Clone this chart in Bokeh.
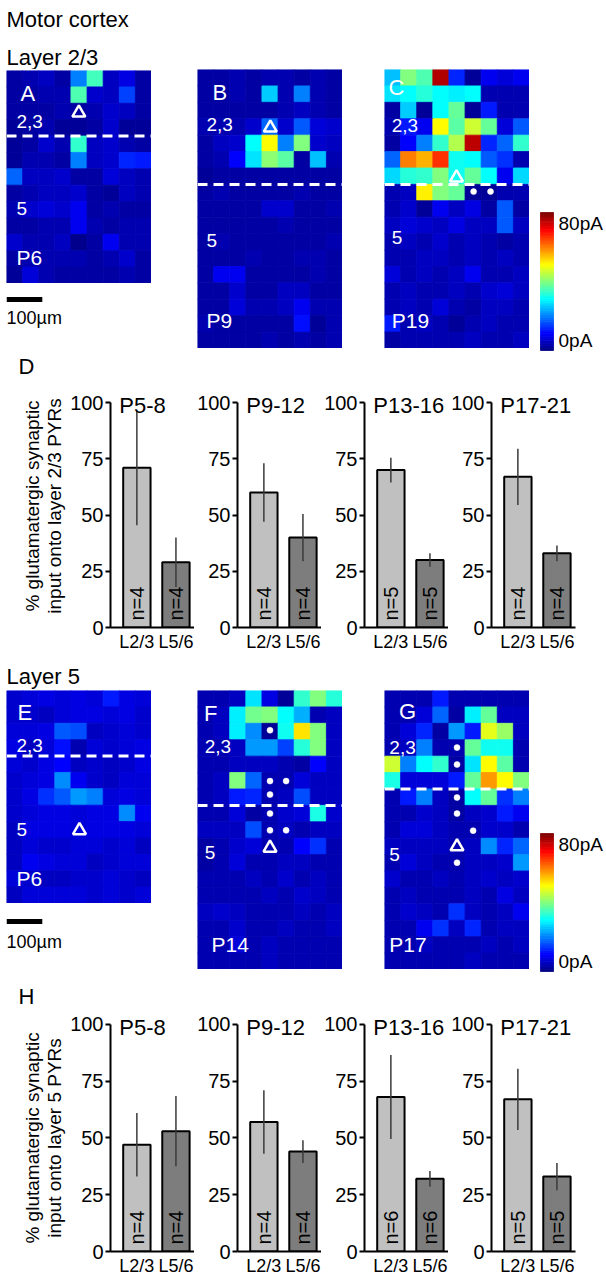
import numpy as np
from bokeh.plotting import figure
from bokeh.layouts import row, column
from bokeh.models import Range1d, ColumnDataSource, LinearColorMapper, FixedTicker, Span, Spacer
from bokeh.core.properties import value
from bokeh.transform import transform
from bokeh.embed import file_html
from bokeh.resources import INLINE

FONT = "Liberation Sans"

# ---------------- data: input maps (pA), rows top -> bottom ----------------
map_A = [
    [3, 4, 5, 3, 20, 35, 5, 8, 3],
    [3, 3, 4, 4, 36, 6, 5, 15, 3],
    [3, 3, 3, 4, 3, 4, 6, 5, 3],
    [2, 3, 4, 2, 2, 3, 6, 2, 2],
    [2, 3, 6, 4, 34, 5, 6, 4, 3],
    [2, 4, 4, 3, 20, 5, 6, 13, 12],
    [18, 5, 5, 6, 3, 3, 7, 5, 4],
    [3, 4, 5, 5, 6, 3, 2, 5, 4],
    [4, 6, 7, 6, 9, 3, 4, 3, 3],
    [3, 3, 4, 4, 9, 4, 3, 4, 4],
    [6, 4, 4, 5, 1, 3, 9, 4, 4],
    [3, 4, 4, 4, 4, 3, 4, 6, 3],
    [2, 7, 4, 3, 3, 3, 3, 4, 3],
]
map_B = [
    [3, 3, 4, 3, 4, 4, 3, 4, 3],
    [3, 3, 4, 3, 26, 4, 20, 4, 3],
    [3, 3, 3, 3, 3, 4, 5, 4, 3],
    [4, 4, 4, 6, 18, 6, 17, 7, 6],
    [3, 5, 6, 30, 50, 20, 40, 6, 5],
    [3, 4, 10, 28, 41, 37, 3, 25, 4],
    [2, 3, 3, 3, 3, 3, 3, 3, 3],
    [3, 4, 3, 3, 3, 3, 4, 3, 3],
    [3, 3, 3, 3, 6, 6, 3, 3, 4],
    [3, 3, 3, 3, 3, 4, 3, 3, 3],
    [3, 4, 3, 3, 3, 3, 3, 3, 4],
    [3, 3, 3, 4, 3, 3, 4, 4, 3],
    [3, 9, 9, 3, 3, 3, 3, 4, 3],
    [3, 3, 6, 3, 3, 5, 5, 3, 3],
    [3, 3, 7, 4, 4, 5, 9, 4, 4],
    [4, 3, 3, 3, 3, 3, 11, 2, 4],
    [3, 3, 3, 3, 4, 3, 4, 3, 4],
]
map_C = [
    [25, 40, 36, 76, 13, 2, 9, 7, 9],
    [28, 30, 33, 30, 29, 30, 4, 4, 4],
    [3, 26, 2, 30, 38, 2, 12, 4, 4],
    [4, 12, 9, 50, 37, 46, 38, 7, 17],
    [3, 10, 20, 34, 44, 75, 13, 18, 34],
    [18, 60, 56, 66, 31, 30, 17, 14, 4],
    [27, 33, 34, 40, 31, 38, 30, 9, 27],
    [4, 5, 51, 40, 38, 2, 2, 4, 4],
    [4, 6, 2, 9, 5, 8, 3, 17, 3],
    [5, 7, 6, 5, 8, 5, 5, 17, 5],
    [4, 5, 4, 6, 4, 5, 4, 3, 4],
    [4, 4, 5, 5, 4, 5, 4, 5, 4],
    [7, 4, 5, 4, 5, 9, 4, 4, 5],
    [4, 5, 4, 4, 5, 4, 6, 7, 5],
    [4, 5, 4, 7, 4, 3, 5, 5, 4],
    [12, 4, 5, 4, 2, 4, 5, 4, 4],
    [3, 4, 4, 4, 4, 5, 4, 4, 5],
]
map_E = [
    [6, 7, 8, 7, 8, 7, 12, 8, 7],
    [6, 6, 5, 7, 8, 8, 7, 8, 6],
    [7, 7, 8, 17, 16, 5, 6, 7, 6],
    [8, 5, 7, 11, 4, 7, 6, 7, 8],
    [7, 6, 8, 10, 5, 6, 5, 6, 8],
    [6, 7, 8, 21, 9, 6, 5, 7, 7],
    [6, 8, 14, 17, 22, 20, 7, 8, 7],
    [6, 7, 8, 8, 7, 8, 8, 21, 9],
    [5, 8, 8, 8, 7, 8, 8, 8, 7],
    [5, 7, 6, 6, 7, 7, 6, 7, 5],
    [5, 9, 8, 7, 7, 5, 6, 7, 7],
    [7, 6, 5, 5, 6, 6, 7, 6, 5],
    [5, 7, 7, 7, 7, 6, 7, 6, 7],
]
map_F = [
    [4, 4, 5, 28, 8, 2, 34, 40, 33],
    [4, 5, 29, 39, 40, 30, 24, 4, 5],
    [4, 5, 29, 21, 2, 31, 52, 40, 5],
    [4, 4, 5, 22, 22, 15, 33, 40, 5],
    [4, 4, 5, 5, 5, 4, 3, 10, 5],
    [4, 5, 40, 18, 4, 4, 7, 5, 5],
    [4, 5, 12, 13, 4, 5, 16, 5, 5],
    [4, 4, 7, 3, 4, 6, 7, 32, 6],
    [5, 5, 5, 16, 4, 5, 4, 5, 5],
    [3, 4, 6, 7, 4, 4, 10, 14, 4],
    [3, 4, 7, 4, 4, 5, 5, 4, 4],
    [4, 4, 4, 5, 4, 6, 4, 5, 4],
    [4, 4, 4, 4, 5, 4, 6, 5, 4],
    [5, 6, 5, 4, 4, 4, 5, 4, 5],
    [4, 4, 6, 4, 4, 5, 4, 4, 5],
    [4, 4, 7, 4, 5, 4, 4, 4, 4],
    [4, 4, 4, 4, 5, 4, 4, 4, 4],
]
map_G = [
    [4, 4, 4, 12, 4, 4, 4, 4, 4],
    [4, 4, 7, 18, 3, 29, 38, 5, 5],
    [4, 7, 13, 3, 22, 12, 48, 42, 5],
    [4, 5, 20, 4, 4, 38, 31, 31, 4],
    [46, 20, 30, 34, 3, 28, 50, 37, 4],
    [32, 7, 7, 7, 12, 38, 58, 50, 40],
    [4, 12, 20, 5, 3, 30, 38, 14, 20],
    [4, 4, 6, 5, 3, 5, 6, 12, 9],
    [4, 7, 7, 5, 4, 4, 6, 6, 4],
    [5, 5, 5, 5, 4, 5, 21, 13, 18],
    [4, 7, 5, 4, 4, 5, 5, 6, 22],
    [6, 4, 4, 5, 4, 5, 6, 5, 6],
    [4, 5, 4, 4, 4, 5, 4, 8, 5],
    [4, 6, 5, 4, 14, 5, 4, 5, 9],
    [4, 4, 9, 14, 5, 13, 4, 5, 5],
    [4, 4, 5, 4, 4, 4, 5, 4, 5],
    [4, 4, 4, 4, 4, 5, 4, 4, 4],
]

# layer 2/3 | 5 boundary (row index) for each map
boundary = {"A": 4, "B": 7, "C": 7, "E": 4, "F": 7, "G": 6}
# recorded cell (triangle) in grid units (column, row)
soma = {"A": (4.49, 2.58), "B": (4.52, 3.55), "C": (4.47, 6.59),
        "E": (4.53, 8.54), "F": (4.5, 9.59), "G": (4.5, 9.51)}
# other recorded cells (dots) in grid units
dots_x = {"C": [5.53, 6.58], "F": [4.5, 4.5, 5.5, 4.5, 4.5, 4.5, 5.5],
          "G": [4.5, 4.5, 4.5, 4.5, 5.5, 4.5]}
dots_y = {"C": [7.44, 7.44], "F": [2.42, 5.52, 5.52, 6.34, 7.5, 8.52, 8.52],
          "G": [3.48, 4.51, 6.52, 7.5, 8.54, 10.49]}
# in-map labels
map_text = {
    "A": ["A", "2,3", "5", "P6"], "B": ["B", "2,3", "5", "P9"], "C": ["C", "2,3", "5", "P19"],
    "E": ["E", "2,3", "5", "P6"], "F": ["F", "2,3", "5", "P14"], "G": ["G", "2,3", "5", "P17"],
}
map_text_x = {"A": [0.87, 0.62, 0.62, 0.62], "B": [0.93, 0.56, 0.56, 0.56], "C": [0.25, 0.45, 0.45, 0.45],
              "E": [0.68, 0.62, 0.62, 0.62], "F": [0.4, 0.45, 0.45, 0.87], "G": [0.9, 0.3, 0.3, 0.3]}
map_text_y = {"A": [1.43, 3.1, 8.4, 11.4], "B": [1.39, 3.37, 10.4, 15.27], "C": [1.1, 3.4, 10.25, 15.3],
              "E": [1.34, 3.35, 8.5, 11.5], "F": [1.4, 3.4, 9.9, 15.5], "G": [1.3, 3.45, 10.0, 15.45]}

CBAR_LOW, CBAR_HIGH = 0, 80
cbar_labels = ["80pA", "0pA"]

# ---------------- data: bar charts ----------------
ages = ["P5-8", "P9-12", "P13-16", "P17-21"]
cats = ["L2/3", "L5/6"]
y_ticks = [0, 25, 50, 75, 100]

d_l23 = [71, 60, 70, 67]
d_l23_err = [25.5, 13, 5.5, 12.5]
d_l56 = [29, 40, 30, 33]
d_l56_err = [11, 10.5, 3, 3.5]
d_n = [4, 4, 5, 4]

h_l23 = [47, 57, 68, 67]
h_l23_err = [14, 14, 18.5, 13.5]
h_l56 = [53, 44, 32, 33]
h_l56_err = [15.5, 5, 3.5, 6]
h_n = [4, 4, 6, 5]

scale_um = 100
cell_um = 45

# ---------------- helpers ----------------
def jet_palette(n=256):
    out = []
    for i in range(n):
        t = i / (n - 1)
        r = min(max(1.5 - abs(4 * t - 3), 0), 1)
        g = min(max(1.5 - abs(4 * t - 2), 0), 1)
        b = min(max(1.5 - abs(4 * t - 1), 0), 1)
        out.append("#%02x%02x%02x" % (round(r * 255), round(g * 255), round(b * 255)))
    return out


JET = jet_palette()
MAPPER = LinearColorMapper(palette=JET, low=CBAR_LOW, high=CBAR_HIGH)


def blank(w, h, xr, yr, **kw):
    opts = dict(min_border=0)
    opts.update(kw)
    p = figure(width=w, height=h, x_range=xr, y_range=yr, output_backend="svg",
               toolbar_location=None, x_axis_location=None,
               y_axis_location=None, title=None, **opts)
    p.xgrid.visible = False
    p.ygrid.visible = False
    p.outline_line_color = None
    p.background_fill_color = "white"
    p.border_fill_color = "white"
    return p


CELL_H = 16.4
MAP_W = 145


def heat_fig(key, mat):
    nr, nc = len(mat), len(mat[0])
    p = blank(MAP_W, int(round(nr * CELL_H)), Range1d(0, nc), Range1d(nr, 0))
    xs, ys, vs = [], [], []
    for r, rv in enumerate(mat):
        for c, v in enumerate(rv):
            xs.append(c + 0.5)
            ys.append(r + 0.5)
            vs.append(v)
    src = ColumnDataSource(dict(x=xs, y=ys, v=vs))
    p.rect("x", "y", width=1, height=1, source=src, fill_color=transform("v", MAPPER),
           line_color=transform("v", MAPPER), line_width=0.8)
    p.add_layout(Span(location=boundary[key], dimension="width", line_color="white",
                      line_width=3, line_dash="10 6"))
    lsrc = ColumnDataSource(dict(x=map_text_x[key], y=map_text_y[key], t=map_text[key],
                                 fs=["22px", "19px", "19px", "21px"]))
    p.text("x", "y", text="t", source=lsrc, text_font_size="fs", text_color="white",
           text_font=value(FONT), text_baseline="middle", text_align="left")
    if key in dots_x:
        p.scatter(dots_x[key], dots_y[key], marker="circle", size=6, fill_color="white",
                  line_color="white", line_width=0.5)
    sx, sy = soma[key]
    p.scatter([sx], [sy], marker="triangle", size=13, fill_alpha=0, line_color="white",
              line_width=2.5)
    return p


def scale_fig(h, bar_y, text_y):
    p = blank(MAP_W, h, Range1d(0, 9 * cell_um), Range1d(h, 0))
    p.segment(x0=[0], y0=[bar_y], x1=[scale_um], y1=[bar_y], line_color="black",
              line_width=5, line_cap="butt")
    p.text(x=[0], y=[text_y], text=["%d\u00b5m" % scale_um], text_font=value(FONT),
           text_font_size="18px", text_baseline="middle", text_align="left",
           text_color="black")
    return p


CB_PX = 138 / (CBAR_HIGH - CBAR_LOW)


def cbar_fig():
    w, h, top_pad, bot_pad = 75, 150, 10, 2
    p = blank(w, h, Range1d(0, w), Range1d(CBAR_LOW - bot_pad / CB_PX, CBAR_HIGH + top_pad / CB_PX))
    levels = np.arange(CBAR_LOW, CBAR_HIGH) + 0.5
    src = ColumnDataSource(dict(y=levels, v=levels))
    p.rect(x=17.5, y="y", width=13, height=1, source=src, fill_color=transform("v", MAPPER),
           line_color=transform("v", MAPPER), line_width=0.8)
    p.text(x=[29, 29], y=[CBAR_HIGH, CBAR_LOW], text=cbar_labels, text_font=value(FONT),
           text_font_size="19px", text_baseline=["top", "bottom"], text_align="left",
           text_color="black")
    return p


TOP_PAD = 14
LEFT_B = 41
FRAME_W = 86
UNIT_PX = 40.0
X0 = 1 - 27 / UNIT_PX
LIGHT, DARK = "#c0c0c0", "#7d7d7d"
LABEL_W = 67


def bar_fig(title, m23, e23, m56, e56, n, pxu, bt, bb, last):
    rb = 8 if last else 0
    fh = int(round(100 * pxu + TOP_PAD))
    ymax = 100 + TOP_PAD / pxu
    p = figure(width=LEFT_B + FRAME_W + rb, height=bt + fh + bb,
               x_range=Range1d(X0, X0 + FRAME_W / UNIT_PX), y_range=Range1d(0, ymax),
               output_backend="svg", toolbar_location=None, title=None,
               min_border_left=LEFT_B, min_border_right=rb, min_border_top=bt,
               min_border_bottom=bb)
    p.xgrid.visible = False
    p.ygrid.visible = False
    p.outline_line_color = None
    for ax in (p.xaxis[0], p.yaxis[0]):
        ax.axis_line_width = 2
        ax.axis_line_color = "black"
        ax.major_tick_line_width = 2
        ax.major_tick_line_color = "black"
        ax.minor_tick_line_color = None
        ax.major_tick_in = 0
        ax.major_label_text_font = FONT
        ax.major_label_text_color = "black"
    ya = p.yaxis[0]
    ya.ticker = FixedTicker(ticks=y_ticks)
    ya.bounds = (0, 100)
    ya.major_tick_out = 5
    ya.major_label_standoff = 2
    ya.major_label_text_font_size = "20px"
    xa = p.xaxis[0]
    xa.ticker = FixedTicker(ticks=[1, 2])
    xa.major_label_overrides = {1: cats[0], 2: cats[1]}
    xa.major_tick_out = 0
    xa.major_tick_line_color = None
    xa.major_label_standoff = 4
    xa.major_label_text_font_size = "18px"
    src = ColumnDataSource(dict(x=[1, 2], top=[m23, m56], lo=[m23 - e23, m56 - e56],
                                hi=[m23 + e23, m56 + e56], color=[LIGHT, DARK],
                                n=["n=%d" % n] * 2, ny=[7 / pxu] * 2))
    p.vbar(x="x", top="top", bottom=0, width=0.7, fill_color="color", line_color="black",
           line_width=2, source=src)
    p.segment(x0="x", y0="lo", x1="x", y1="hi", line_color="#3a3a3a", line_width=1.5,
              source=src)
    p.text(x="x", y="ny", text="n", source=src, angle=np.pi / 2, text_align="left",
           text_baseline="middle", text_font=value(FONT), text_font_size="20px",
           text_color="black")
    p.text(x=[X0 + 9 / UNIT_PX], y=[100 - 3 / pxu], text=[title], text_font=value(FONT),
           text_font_size="22px", text_baseline="alphabetic", text_align="left",
           text_color="black")
    return p


def ylabel_fig(pxu, bt, bb, line2, center_val):
    fh = int(round(100 * pxu + TOP_PAD))
    ymax = 100 + TOP_PAD / pxu
    p = blank(LABEL_W, bt + fh + bb, Range1d(0, LABEL_W), Range1d(0, ymax),
              min_border_top=bt, min_border_bottom=bb)
    p.text(x=[31.5, 54], y=[center_val, center_val], text=["% glutamatergic synaptic", line2],
           angle=np.pi / 2, text_align="center", text_baseline="middle",
           text_font=value(FONT), text_font_size="19px", text_color="black")
    return p


def bar_band(line2, center_val, pxu, bt, bb, l23, l23e, l56, l56e, ns):
    kids = [ylabel_fig(pxu, bt, bb, line2, center_val)]
    for i, a in enumerate(ages):
        kids.append(bar_fig(a, l23[i], l23e[i], l56[i], l56e[i], ns[i], pxu, bt, bb,
                            i == len(ages) - 1))
    return row(*kids)


def header(h, texts, xs, ys, size, baseline="alphabetic"):
    w = 600
    p = blank(w, h, Range1d(0, w), Range1d(h, 0))
    p.text(x=xs, y=ys, text=texts, text_font=value(FONT),
           text_font_size=value(size), text_baseline=baseline, text_align="left",
           text_color="black")
    return p


# ---------------- assemble ----------------
head1 = header(69, ["Motor cortex", "Layer 2/3"], [6, 6], [19, 57], "22px")

band2 = row(
    Spacer(width=6),
    column(Spacer(height=1), heat_fig("A", map_A), scale_fig(55, 16, 34)),
    Spacer(width=46),
    heat_fig("B", map_B),
    Spacer(width=42),
    heat_fig("C", map_C),
    column(Spacer(height=133), cbar_fig()),
)

headD = header(30, ["D"], [18], [14], "22px", baseline="middle")
bandD = bar_band("input onto layer 2/3 PYRs", 54, 2.25, 6, 33,
                 d_l23, d_l23_err, d_l56, d_l56_err, d_n)

head2 = header(30, ["Layer 5"], [6], [16], "22px")

band5 = row(
    Spacer(width=6),
    column(heat_fig("E", map_E), scale_fig(60, 18, 38)),
    Spacer(width=46),
    heat_fig("F", map_F),
    Spacer(width=42),
    heat_fig("G", map_G),
    column(Spacer(height=133), cbar_fig()),
)

headH = header(37, ["H"], [18], [23], "22px", baseline="middle")
bandH = bar_band("input onto layer 5 PYRs", 50, 2.28, 0, 26,
                 h_l23, h_l23_err, h_l56, h_l56_err, h_n)

layout = column(head1, band2, headD, bandD, head2, band5, headH, bandH)

open("out.html", "w").write(file_html(layout, INLINE))
